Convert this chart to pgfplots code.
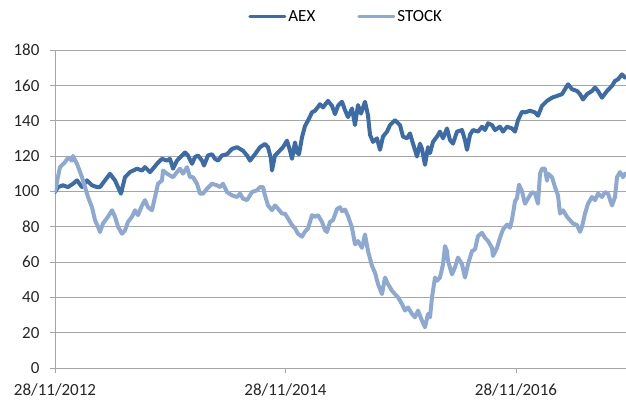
\documentclass[border=0pt]{standalone}
\usepackage{pgfplots}
\pgfplotsset{compat=1.18}
\usepackage{fontspec}
\setmainfont{Carlito}
\definecolor{aex}{HTML}{3D6BA5}
\definecolor{stk}{HTML}{8EA9D1}
\definecolor{gridc}{HTML}{A6A6A6}
\begin{document}
\begin{tikzpicture}
\path[use as bounding box] (-55pt,-37pt) rectangle (571pt,368pt);
\begin{axis}[
  at={(0pt,0pt)}, anchor=south west,
  scale only axis, width=571pt, height=318pt,
  xmin=0, xmax=571, ymin=0, ymax=180,
  axis lines*=left,
  axis line style={gridc, line width=0.9pt},
  ytick={0,20,...,180}, ymajorgrids,
  grid style={gridc, line width=0.9pt},
  xtick={0,230.5,461}, xticklabels={28/11/2012,28/11/2014,28/11/2016},
  tick align=outside, major tick length=5pt,
  tick style={gridc, line width=0.9pt},
  ticklabel style={font=\fontsize{17}{20}\selectfont, text=black!85},
  yticklabel style={xshift=-7pt},
  xticklabel style={yshift=-7pt},
  /pgf/number format/assume math mode=true,
  legend style={at={(0.510,1.104)}, anchor=center, draw=none, fill=none,
    legend columns=2, font=\fontsize{17}{20}\selectfont,
    /tikz/every even column/.append style={column sep=40pt}},
  legend image code/.code={\draw[#1, line width=3pt] (0pt,0pt) -- (35pt,0pt);},
  every axis plot/.append style={line width=4pt, line join=round, line cap=round},
]
\addplot[aex] coordinates {
(0,99.6)(3,102.4)(8,103.4)(13,102.4)(18,104.3)(22,106.2)(27,102.4)(32,106.2)(37,103.4)(42,102.4)(45,102.4)(50,106.2)(55,109.9)(60,106.2)(63,102.4)(66,98.7)(70,108)(75,110.9)(82,112.8)(87,111.8)
(90,113.7)(95,110.9)(98,112.8)(102,115.6)(107,118.4)(112,117.4)(115,118.4)(118,112.8)(122,117.4)(127,120.3)(130,122)(133,120.3)(137,115.6)(140,119.4)(143,120.3)(147,117.4)(149,114.6)(153,120.3)(157,121)(160,118.4)(163,117.4)(167,120.3)(172,121)(177,124)(182,125)
(185,124)(188,123)(192,120.3)(195,117.4)(200,121)(205,125)(210,126.8)(213,125)(216,118.4)(217,111.8)(220,120.3)(223,122)(228,125)(232,128.7)(235,123)(237,118.4)(240,127.7)(242,122)(244,121)(247,130.6)(250,137)(253,140)(257,144.7)(260,145.6)(265,149.3)(268,147.5)(273,151.2)(277,148.4)(280,143.7)(283,148.4)
(287,150.7)(290,146)(293,142)(297,146.9)(300,137.5)(303,148.8)(306,144)(310,150.7)(313,143)(315,132)(318,128)(322,130)(325,123.5)(328,131)(332,133.8)(335,137.5)(340,140.3)(345,137.5)(348,131)(352,130)(355,132.8)(358,127)(362,119.7)(365,127)(367,124)(370,115)(373,125)
(375,121.6)(378,128)(382,131)(385,133.8)(388,130)(392,135.6)(395,129)(398,127)(402,133.8)(407,134.7)(410,129)(412,123.5)(415,132)(418,134.7)(423,133.8)(427,136.6)(430,134.7)(433,138.5)(437,137.5)(440,134.7)(445,136.6)(448,133.8)(452,136.6)(457,135.6)(460,133.8)(463,140.3)(467,145)
(470,144.7)(475,145.6)(480,144.7)(483,142.8)(487,148.4)(492,151.2)(497,153)(502,154)(507,155)(510,157.8)(513,160.6)(517,157.8)(522,156.8)(525,155)(528,152)(532,155)(537,156.8)(540,158.7)(543,156.8)(547,153)(552,156.8)(557,159.7)(560,162.5)(563,163.4)(567,166.2)(570,164.4)
};
\addlegendentry{AEX}
\addplot[stk] coordinates {
(0,100)(5,113.7)(10,116.5)(13,119)(17,117.4)(18,120)(22,115.6)(25,111)(27,108)(30,102.4)(33,96.8)(37,91)(40,83.7)(43,80)(45,77)(48,81.8)(53,85.6)(57,89.3)(60,85.6)(63,80)(67,76)(70,77.9)(73,82.7)(77,85.6)(80,89.3)(83,86.5)(87,92)
(90,95)(93,91)(97,89.3)(100,96.8)(103,104.3)(107,106.2)(108,111.8)(112,110)(115,109)(118,108)(122,110.9)(125,112.8)(128,110)(132,113.7)(135,108)(138,108)(142,104.3)(145,98.7)(148,98.7)(152,101.5)(157,104.3)(162,103.4)(165,102.4)(168,104.3)(172,99.6)(177,97.7)(182,96.8)
(185,98.7)(188,95.9)(192,95)(197,99.6)(202,100.6)(205,102.4)(208,102.4)(210,97.7)(213,92)(217,89.3)(220,92)(223,90.2)(227,87.4)(230,87.4)(233,84.6)(237,80.9)(240,79)(243,76)(247,74.3)(250,77.2)(253,79)(257,86.5)(260,85.6)(263,86.5)(267,82.7)(270,78)(272,77)(275,82.7)(278,83.7)(282,90)
(285,91)(287,88.7)(290,89.7)(293,86)(297,79.4)(300,70)(303,71.9)(307,68)(310,75.6)(313,66.2)(317,57.8)(320,54)(323,47.5)(327,41.8)(330,51.2)(333,47.5)(337,43.7)(340,41.8)(343,40)(347,36.2)(350,32.5)(353,34.3)(357,30.6)(360,28.7)(363,32.5)(367,26.8)(370,23)(373,30.6)
(375,28.7)(377,40)(380,51.2)(382,49.4)(385,51.2)(388,58.7)(390,69)(392,66.2)(393,60.6)(397,53)(400,57)(403,62.5)(407,58.7)(410,51.2)(413,58.7)(417,66.2)(420,67.1)(423,74.7)(427,76.5)(430,73.7)(433,71.9)(437,68)(438,63.4)(442,68)(445,73.7)(448,78.4)(452,81.2)(455,79.4)(457,84)(460,94.4)(462,96.2)(464,103.8)(467,100)
(470,93)(473,95.9)(477,99.6)(480,98.7)(483,93)(485,110)(487,112.8)(490,112.8)(492,106)(493,110)(497,108)(500,102.4)(503,97.7)(505,87.4)(508,89.3)(512,85.6)(515,83.7)(518,81.8)(522,80.9)(525,77.1)(527,80)(530,87.4)(533,93)(537,96.8)(540,95)(543,98.7)(547,96.8)(550,99.6)(553,98.7)(557,92)(560,96.8)(562,108)(565,110.9)(568,108)(570,110)
};
\addlegendentry{STOCK}
\end{axis}
\end{tikzpicture}
\end{document}
